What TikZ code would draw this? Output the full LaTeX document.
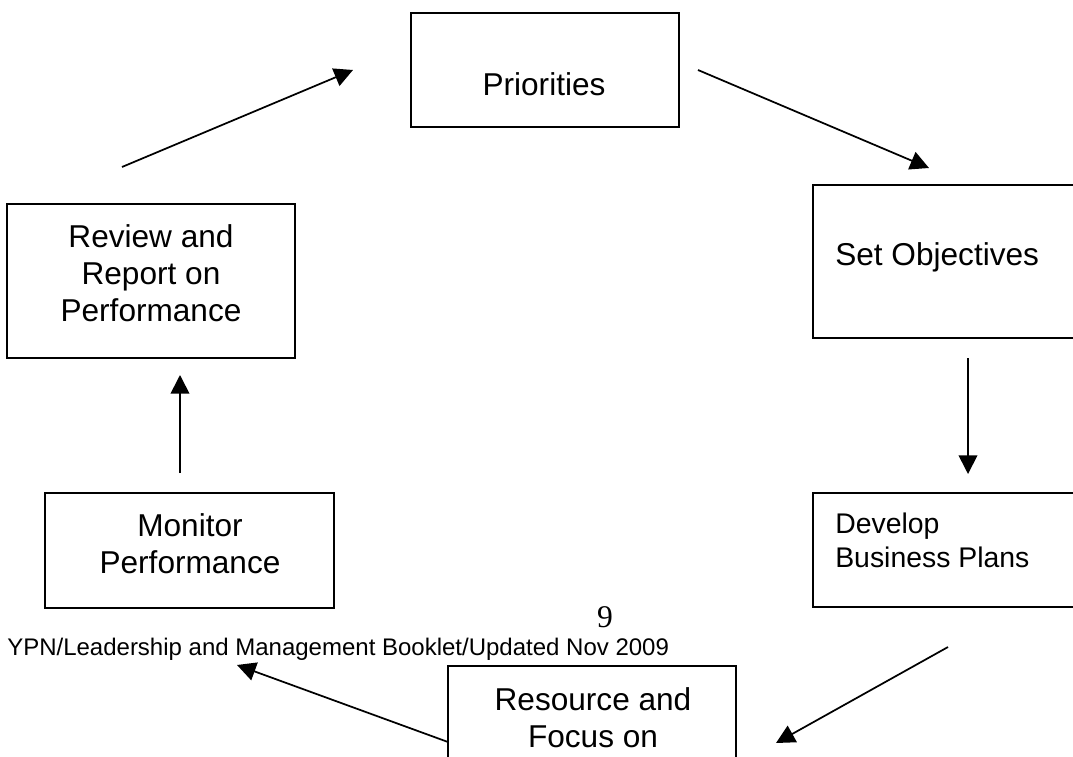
\documentclass[tikz,border=0pt]{standalone}
\usepackage{fontspec}
\setmainfont{Liberation Sans}
\newfontfamily\pageNumFont{Liberation Serif}
\usetikzlibrary{arrows.meta, fit}

\begin{document}
\begin{tikzpicture}[x=0.75pt, y=-0.75pt,
  boxStyle/.style={draw, line width=1.4pt, inner sep=0pt},
  textStyle/.style={inner sep=0pt, align=center, font=\fontsize{23.7}{27.75}\selectfont},
  arrowStyle/.style={line width=1.3pt, -{Triangle[length=14pt, width=14pt]}}
]
\useasboundingbox (0,0) rectangle (1073,756);
\clip (0,0) rectangle (1073,756);

% boxes of the cycle
\node [boxStyle, fit={(411,13) (679,127)}]  (priorities) {};
\node [boxStyle, fit={(813,185) (1085,338)}] (objectives) {};
\node [boxStyle, fit={(813,493) (1085,607)}] (develop) {};
\node [boxStyle, fit={(448,666) (736,800)}]  (resource) {};
\node [boxStyle, fit={(45,493) (334,608)}]   (monitor) {};
\node [boxStyle, fit={(7,204) (295,358)}]    (review) {};

% box texts
\node [textStyle, anchor=north]      (prioritiesText) at (544,72)  {Priorities};
\node [textStyle, anchor=north west] (objectivesText) at (835,242) {Set Objectives};
\node [textStyle, anchor=north west, align=left, font=\fontsize{21.3}{25.5}\selectfont] (developText) at (835,513) {Develop\\Business Plans};
\node [textStyle, anchor=north]      (resourceText)   at (593,687) {Resource and\\Focus on};
\node [textStyle, anchor=north]      (monitorText)    at (190,513) {Monitor\\Performance};
\node [textStyle, anchor=north]      (reviewText)     at (151,224) {Review and\\Report on\\Performance};

% page number and footer
\node [inner sep=0pt, anchor=north, font=\pageNumFont\fontsize{23.7}{28}\selectfont] (pageNum) at (605,606) {9};
\node [inner sep=0pt, anchor=north west, font=\fontsize{18}{21.6}\selectfont] (footer) at (7,638) {YPN/Leadership and Management Booklet/Updated Nov 2009};

% arrow ends
\coordinate (reviewOut)     at (122,167);
\coordinate (prioritiesIn)  at (353,70);
\coordinate (prioritiesOut) at (698,70);
\coordinate (objectivesIn)  at (929,168);
\coordinate (objectivesOut) at (968,358);
\coordinate (developIn)     at (968,474);
\coordinate (developOut)    at (948,647);
\coordinate (resourceIn)    at (776,743);
\coordinate (resourceOut)   at (448,742);
\coordinate (monitorIn)     at (237,665);
\coordinate (monitorOut)    at (180,473);
\coordinate (reviewIn)      at (180,375);

\draw [arrowStyle] (reviewOut) -- (prioritiesIn);
\draw [arrowStyle] (prioritiesOut) -- (objectivesIn);
\draw [arrowStyle] (objectivesOut) -- (developIn);
\draw [arrowStyle] (developOut) -- (resourceIn);
\draw [arrowStyle] (resourceOut) -- (monitorIn);
\draw [arrowStyle] (monitorOut) -- (reviewIn);
\end{tikzpicture}
\end{document}
